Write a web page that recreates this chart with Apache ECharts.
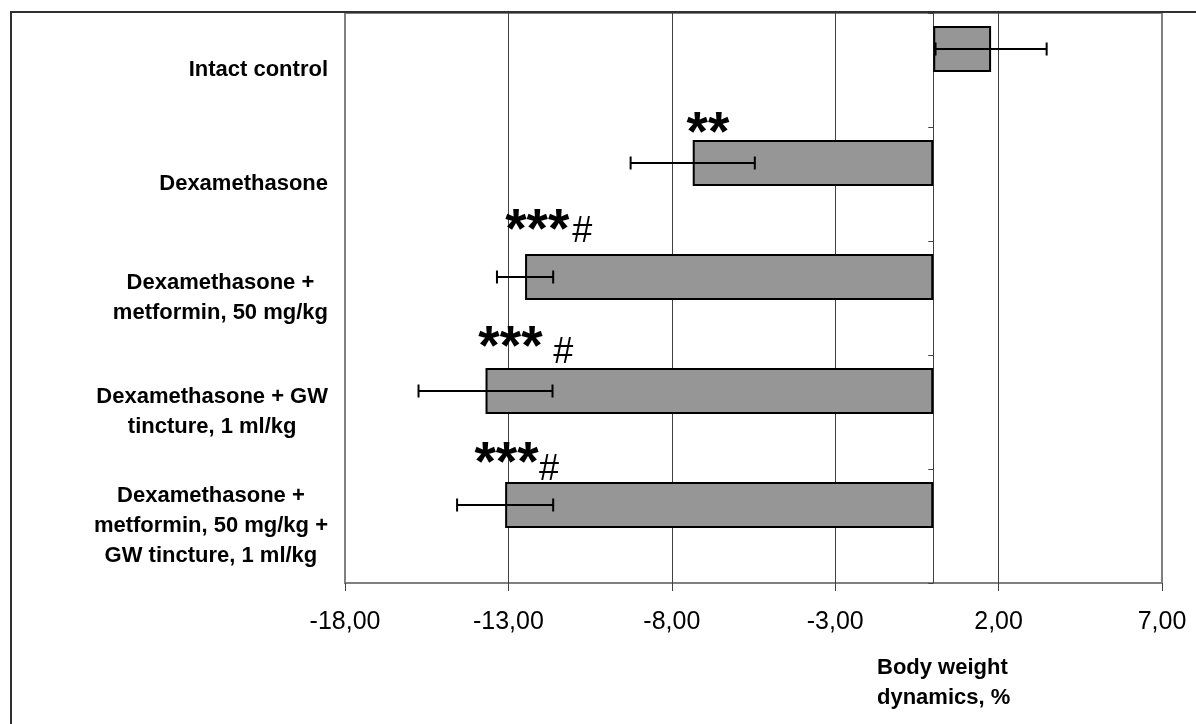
<!DOCTYPE html>
<html><head><meta charset="utf-8">
<script src="https://cdn.jsdelivr.net/npm/echarts@6/dist/echarts.min.js"></script>
<style>html,body{margin:0;padding:0;background:#fff}#c{width:1196px;height:724px}</style>
</head><body><div id="c"></div>
<script>
// ---- data ----
const categories = [
  'Intact control',
  'Dexamethasone',
  'Dexamethasone +\nmetformin, 50 mg/kg',
  'Dexamethasone + GW\ntincture, 1 ml/kg',
  'Dexamethasone +\nmetformin, 50 mg/kg +\nGW tincture, 1 ml/kg'
];
const meanValues  = [1.77, -7.36, -12.49, -13.70, -13.10];
const errorValues = [1.70, 1.90, 0.86, 2.05, 1.47];
const starMarks = ['', '**', '***', '***', '***'];
const hashMarks = ['', '', '#', '#', '#'];
const xTickValues = [-18, -13, -8, -3, 2, 7];
const axisTitle = 'Body weight\ndynamics, %';

// ---- layout (positions of the significance marks, data x + pixel y offset) ----
const markLayout = [
  null,
  { sx: -7.55, sy: -49 },
  { sx: -13.10, sy: -66.5, hx: -11.05, hy: -66 },
  { sx: -13.92, sy: -63.5, hx: -11.63, hy: -59 },
  { sx: -14.04, sy: -61.5, hx: -12.06, hy: -56 }
];

const BAR_W = 46;
const BAR_GAP = -0.087;
const BAR_SHIFT = -(BAR_W + BAR_GAP * BAR_W) / 2;
const FONT = '"Liberation Sans", Arial, sans-serif';

const chart = echarts.init(document.getElementById('c'));
chart.setOption({
  animation: false,
  backgroundColor: '#fff',
  grid: { left: 345, right: 34, top: 13, bottom: 141, show: true, borderColor: '#808080', borderWidth: 2, outerBoundsMode: 'none' },
  xAxis: {
    type: 'value',
    min: xTickValues[0], max: xTickValues[xTickValues.length - 1],
    interval: xTickValues[1] - xTickValues[0],
    axisLine: { onZero: false, lineStyle: { color: '#404040', width: 1 } },
    axisTick: { show: true, length: 8, lineStyle: { color: '#404040' } },
    axisLabel: { margin: 27, fontSize: 25, fontFamily: FONT, color: '#000',
      formatter: v => v.toFixed(2).replace('.', ',') },
    splitLine: { show: true, showMinLine: false, showMaxLine: false, lineStyle: { color: '#404040', width: 1 } }
  },
  yAxis: [
    {
      type: 'category', data: categories, inverse: true,
      axisLine: { show: false, onZero: false }, axisTick: { show: false },
      axisLabel: {
        margin: 17, align: 'right',
        formatter: v => v.split('\n').map(s => '{c|' + s + '}').join('\n'),
        rich: { c: { align: 'center', fontSize: 22, fontWeight: 'bold', fontFamily: FONT, lineHeight: 30, color: '#000' } }
      },
      splitLine: { show: false }
    },
    {
      type: 'category', data: categories, inverse: true, position: 'left',
      axisLine: { show: true, onZero: true, lineStyle: { color: '#404040', width: 1 } },
      axisTick: { show: true, length: 5, lineStyle: { color: '#404040' } },
      axisLabel: { show: false }, splitLine: { show: false }
    }
  ],
  graphic: [
    { type: 'rect', shape: { x: 11, y: 12, width: 1400, height: 900 }, style: { fill: 'none', stroke: '#303030', lineWidth: 2 }, z: 100 },
    { type: 'text', left: 877, top: 653, style: { text: axisTitle, fontSize: 22, fontWeight: 'bold', fontFamily: FONT, lineHeight: 30, fill: '#000' } }
  ],
  series: [
    { type: 'bar', yAxisIndex: 0, data: meanValues, barWidth: BAR_W, barGap: (BAR_GAP * 100) + '%', z: 2,
      itemStyle: { color: '#969696', borderColor: '#000', borderWidth: 2 } },
    { type: 'bar', yAxisIndex: 0, data: [], barWidth: BAR_W },
    { type: 'custom', yAxisIndex: 0, z: 5, data: meanValues.map((m, i) => [m, i]), encode: { x: 0, y: 1 },
      renderItem: (params, api) => {
        const i = params.dataIndex;
        const m = meanValues[i], e = errorValues[i];
        const y = api.coord([m, i])[1] + BAR_SHIFT;
        const l = api.coord([m - e, i])[0], r = api.coord([m + e, i])[0];
        const st = { stroke: '#000', lineWidth: 2 };
        return { type: 'group', children: [
          { type: 'line', shape: { x1: l, y1: y, x2: r, y2: y }, style: st },
          { type: 'line', shape: { x1: l, y1: y - 6.5, x2: l, y2: y + 6.5 }, style: st },
          { type: 'line', shape: { x1: r, y1: y - 6.5, x2: r, y2: y + 6.5 }, style: st }
        ]};
      } },
    { type: 'custom', yAxisIndex: 0, z: 5, data: categories.map((c, i) => [0, i]), encode: { x: 0, y: 1 },
      renderItem: (params, api) => {
        const i = params.dataIndex;
        const L = markLayout[i];
        if (!L) return null;
        const children = [];
        const yc = api.coord([0, i])[1];
        if (starMarks[i]) {
          children.push({ type: 'text', x: api.coord([L.sx, i])[0], y: yc + L.sy,
            style: { text: starMarks[i], fontSize: 55, fontWeight: 'bold', fontFamily: FONT, fill: '#000', align: 'left', verticalAlign: 'middle' } });
        }
        if (hashMarks[i]) {
          children.push({ type: 'text', x: api.coord([L.hx, i])[0], y: yc + L.hy,
            style: { text: hashMarks[i], fontSize: 36, fontFamily: FONT, fill: '#000', align: 'left', verticalAlign: 'middle' } });
        }
        return { type: 'group', children };
      } }
  ]
});
</script></body></html>
